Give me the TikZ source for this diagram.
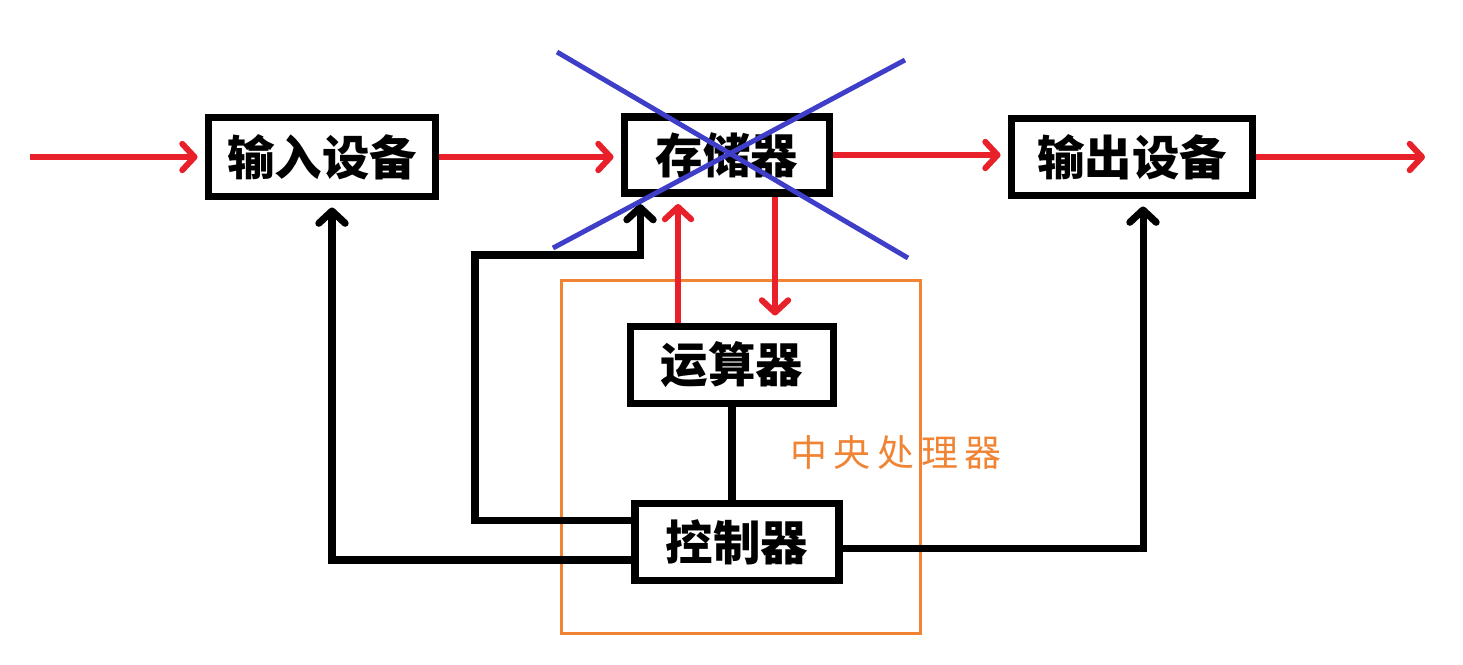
\documentclass[tikz,border=0pt]{standalone}
\usepackage{fontspec}
\usepackage{xcolor}
\usepackage{tikz}
\usetikzlibrary{arrows.meta,positioning,calc}
\newfontfamily\cjk{Noto Sans CJK SC}
\newfontfamily\cjkwide[LetterSpace=18]{Noto Sans CJK SC}
\definecolor{flowred}{RGB}{232, 32, 42}
\definecolor{cpuorange}{RGB}{240, 132, 52}
\definecolor{crossblue}{RGB}{62, 62, 200}

\tikzset{
  unit/.style={draw, rectangle, line width=4.5pt, font=\cjk\bfseries\fontsize{27}{30}\selectfont},
  dataflow/.style={draw=flowred, line width=3.4pt, -{Straight Barb[length=7pt, width=15pt, round]}, shorten >=4pt},
  ctrlflow/.style={draw, line width=4pt, -{Straight Barb[length=7pt, width=15pt, round]}, shorten >=4pt},
  crossline/.style={draw=crossblue, line width=2.8pt}
}

\begin{document}
\begin{tikzpicture}[x=0.02cm, y=-0.02cm]
    \useasboundingbox (0,0) rectangle (1463,664);

    \node [unit, minimum width=4.54cm, minimum height=1.58cm] (in) at (322,157) {输入设备};
    \node [unit, minimum width=4.10cm, minimum height=1.52cm] (mem) at (727,155) {存储器};
    \node [unit, minimum width=4.82cm, minimum height=1.54cm] (out) at (1132,157) {输出设备};
    \node [unit, minimum width=4.06cm, minimum height=1.54cm] (alu) at (732,365) {运算器};
    \node [unit, minimum width=4.08cm, minimum height=1.54cm] (ctl) at (737,542) {控制器};

    % central processor frame
    \node [draw=cpuorange, line width=1.7pt, minimum width=7.2cm, minimum height=7.06cm] (cpu) at (741,457) {};
    \node [text=cpuorange, font=\cjkwide\fontsize{21}{24}\selectfont] (cpulabel) at (896,452) {中央处理器};

    \coordinate (src) at (30,157);
    \coordinate (snk) at (1432,157);
    \coordinate (bend) at (475,255);

    % data paths
    \draw [dataflow] (src) -- (in);
    \draw [dataflow] (in.east) -- (in.east -| mem.west);
    \draw [dataflow] (mem.east) -- (mem.east -| out.west);
    \draw [dataflow] (out.east) -- (snk);
    \draw [dataflow] ([xshift=-1.08cm]alu.north) -- ([xshift=-1.08cm]alu.north |- mem.south);
    \draw [dataflow] ([xshift=0.96cm]mem.south) -- ([xshift=0.96cm]mem.south |- alu.north);

    % control paths
    \draw [line width=4pt] (alu.south) -- (alu.south |- ctl.north);
    \draw [ctrlflow] ([yshift=0.44cm]ctl.west) -| (bend) -| ([xshift=-1.74cm]mem.south);
    \draw [ctrlflow] ([yshift=-0.36cm]ctl.west) -| ([xshift=0.2cm]in.south);
    \draw [ctrlflow] ([yshift=-0.12cm]ctl.east) -| ([xshift=0.22cm]out.south);

    % crossed out
    \draw [crossline] (557,52) -- (908,258);
    \draw [crossline] (905,60) -- (553,248);
\end{tikzpicture}
\end{document}
